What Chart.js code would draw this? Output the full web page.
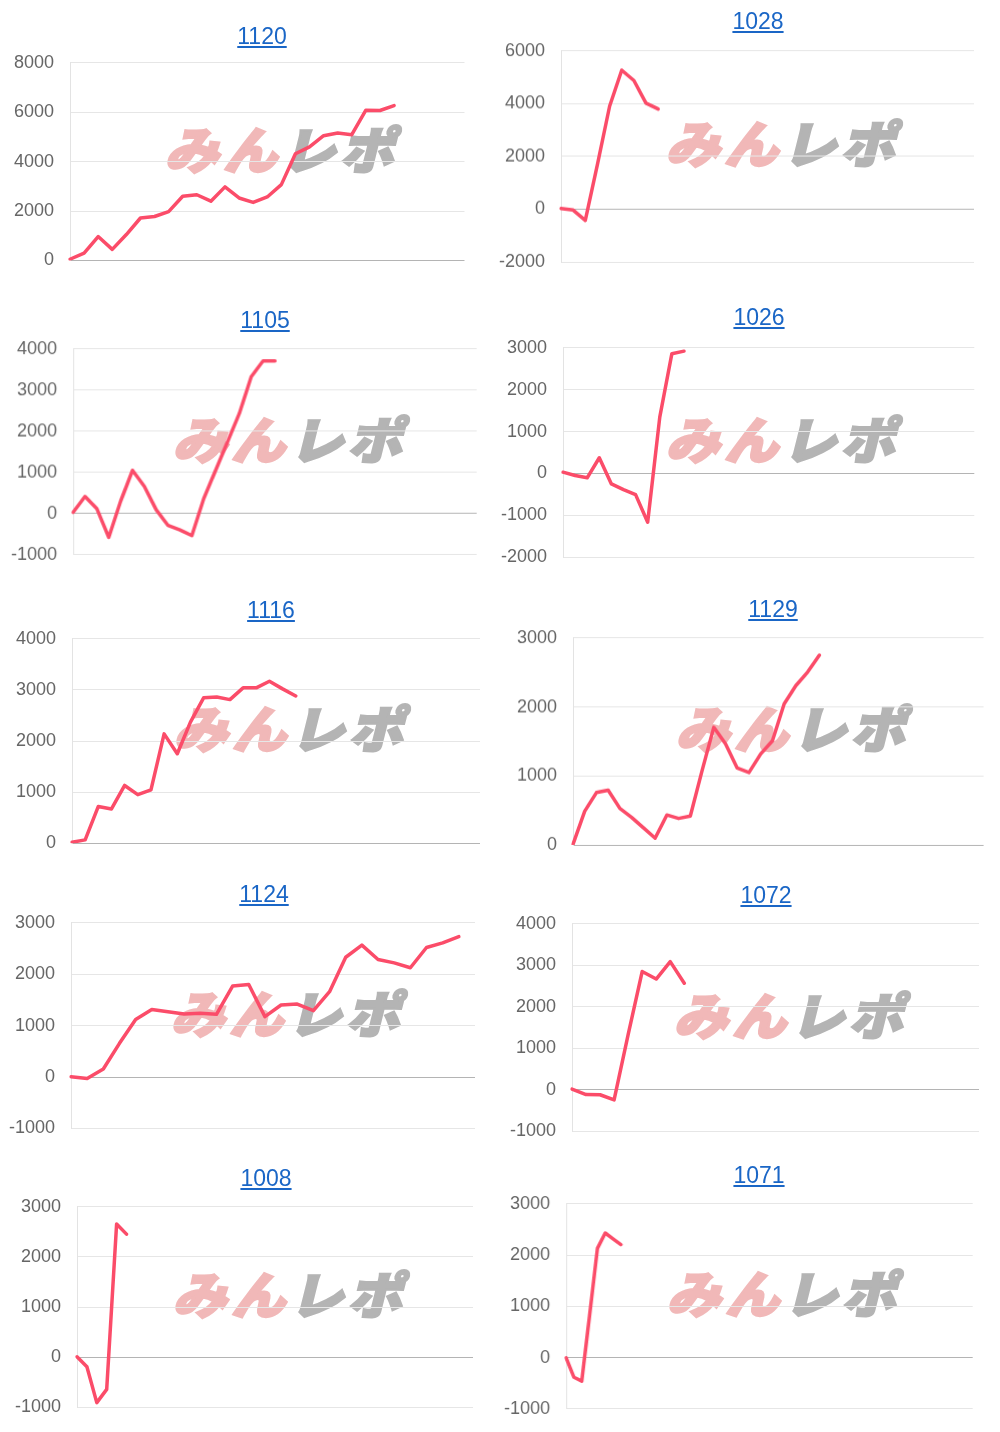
<!DOCTYPE html>
<html><head><meta charset="utf-8">
<script src="https://cdn.jsdelivr.net/npm/chart.js@4.4.0/dist/chart.umd.min.js"></script>
<style>
html,body{margin:0;padding:0;background:#fff;}
body{width:1000px;height:1432px;position:relative;overflow:hidden;font-family:"Liberation Sans",Arial,sans-serif;}
.title{position:absolute;font-size:23px;line-height:23px;white-space:nowrap;transform:translateX(-50%);z-index:2;}
.title a{color:#1a66c6;text-decoration:underline;text-decoration-thickness:1.5px;text-underline-offset:2px;}
.wm{position:absolute;z-index:0;font-family:"Noto Sans CJK JP",sans-serif;font-weight:900;font-size:50px;line-height:1;white-space:nowrap;transform:translate(-50%,-50%) skewX(-14deg) scaleX(1.08);letter-spacing:4px;}
.wm .a{color:#f1b8b8;-webkit-text-stroke:2.5px #f1b8b8;}
.wm .b{color:#b4b4b4;-webkit-text-stroke:2.5px #b4b4b4;}
.box{position:absolute;z-index:1;}
</style></head><body>
<script>
// titles and axis ranges
const titles = ['1120','1028','1105','1026','1116','1129','1124','1072','1008','1071'];
const xCounts = [29, 35, 35, 35, 32, 36, 26, 30, 41, 53];
const yMins  = [0, -2000, -1000, -2000, 0, 0, -1000, -1000, -1000, -1000];
const yMaxs  = [8000, 6000, 4000, 3000, 4000, 3000, 3000, 4000, 3000, 3000];
const ySteps = [2000, 2000, 1000, 1000, 1000, 1000, 1000, 1000, 1000, 1000];

// series values
const s1120 = [50, 300, 970, 450, 1050, 1720, 1780, 1980, 2600, 2660, 2400, 2980, 2530, 2350, 2570, 3070, 4320, 4600, 5050, 5160, 5090, 6080, 6070, 6270];
const s1028 = [30, -30, -420, 1700, 3900, 5270, 4880, 4020, 3800];
const s1105 = [30, 415, 115, -577, 300, 1050, 660, 90, -290, -400, -535, 360, 1050, 1740, 2430, 3325, 3710, 3710];
const s1026 = [30, -50, -105, 375, -250, -385, -505, -1165, 1345, 2860, 2920];
const s1116 = [20, 65, 720, 670, 1130, 950, 1045, 2140, 1750, 2370, 2845, 2860, 2810, 3040, 3040, 3170, 3020, 2880];
const s1129 = [10, 490, 760, 795, 530, 400, 250, 100, 435, 385, 420, 1075, 1705, 1465, 1115, 1050, 1320, 1510, 2045, 2310, 2505, 2750];
const s1124 = [5, -30, 155, 655, 1120, 1315, 1270, 1225, 1240, 1220, 1770, 1800, 1175, 1400, 1420, 1290, 1660, 2330, 2565, 2285, 2220, 2125, 2520, 2610, 2730];
const s1072 = [20, -110, -115, -240, 1330, 2850, 2670, 3090, 2570];
const s1008 = [10, -190, -905, -640, 2655, 2455];
const s1071 = [-5, -385, -460, 830, 2130, 2430, 2315, 2205];
const seriesList = [s1120, s1028, s1105, s1026, s1116, s1129, s1124, s1072, s1008, s1071];

// layout (plot rectangles, title positions)
const frames = [
  {L:69.5, R:464,  T:63,    B:260.7,  tx:262, ty:25},
  {L:561,  R:974,  T:50.7,  B:261,    tx:758, ty:10},
  {L:73.3, R:476,  T:349,   B:554,    tx:265, ty:309},
  {L:562.7,R:974,  T:347.3, B:556.7,  tx:759, ty:306},
  {L:72,   R:480,  T:638.3, B:842.7,  tx:271, ty:599},
  {L:572.7,R:983.3,T:637.7, B:844,    tx:773, ty:598},
  {L:71,   R:475,  T:922.7, B:1128.3, tx:264, ty:883},
  {L:572,  R:979,  T:924,   B:1131.7, tx:766, ty:884},
  {L:77.3, R:473.3,T:1206.7,B:1407.3, tx:266, ty:1167},
  {L:566,  R:971.7,T:1203.3,B:1408.3, tx:759, ty:1164}
];

// y scale adds half label line height (21.6/2) plus tick padding (16) above and below
const AXW = 70, PADR = 10, TICKPAD = 16, VPAD = 10.8 + 16;
const FONT = '"Liberation Sans", Arial, sans-serif';

frames.forEach((f, i) => {
  const t = document.createElement('div');
  t.className = 'title';
  t.style.left = f.tx + 'px';
  t.style.top = f.ty + 'px';
  const a = document.createElement('a');
  a.href = '#';
  a.textContent = titles[i];
  t.appendChild(a);
  document.body.appendChild(t);

  const wm = document.createElement('div');
  wm.className = 'wm';
  wm.style.left = ((f.L + f.R) / 2 + 20) + 'px';
  wm.style.top = ((f.T + f.B) / 2 - 15) + 'px';
  wm.innerHTML = '<span class="a">みん</span><span class="b">レポ</span>';
  document.body.appendChild(wm);

  const box = document.createElement('div');
  box.className = 'box';
  box.style.left = (f.L - AXW) + 'px';
  box.style.top = (f.T - VPAD) + 'px';
  box.style.width = (f.R - f.L + AXW + PADR) + 'px';
  box.style.height = (f.B - f.T + 2 * VPAD) + 'px';
  const cv = document.createElement('canvas');
  box.appendChild(cv);
  document.body.appendChild(box);

  const labels = Array.from({length: xCounts[i]}, (_, k) => String(k + 1));
  new Chart(cv, {
    type: 'line',
    data: {
      labels: labels,
      datasets: [{
        data: seriesList[i],
        borderColor: '#fb4c69',
        borderWidth: 3.5,
        pointRadius: 0,
        pointHoverRadius: 0,
        tension: 0,
        fill: false,
        borderJoinStyle: 'round',
        borderCapStyle: 'round'
      }]
    },
    options: {
      responsive: true,
      maintainAspectRatio: false,
      animation: false,
      events: [],
      layout: {padding: {top: 0, bottom: 0, left: 0, right: PADR}},
      plugins: {legend: {display: false}, tooltip: {enabled: false}},
      scales: {
        x: {display: false},
        y: {
          min: yMins[i],
          max: yMaxs[i],
          afterFit: (s) => { s.width = AXW; },
          ticks: {
            stepSize: ySteps[i],
            padding: TICKPAD,
            color: '#666',
            font: {family: FONT, size: 18},
            callback: (v) => String(v)
          },
          grid: {
            drawTicks: false,
            lineWidth: 1,
            color: (c) => (c.tick && c.tick.value === 0) ? '#b4b4b4' : '#e6e6e6'
          },
          border: {display: true, color: '#e3e3e3', width: 1}
        }
      }
    }
  });
});
</script>
</body></html>
